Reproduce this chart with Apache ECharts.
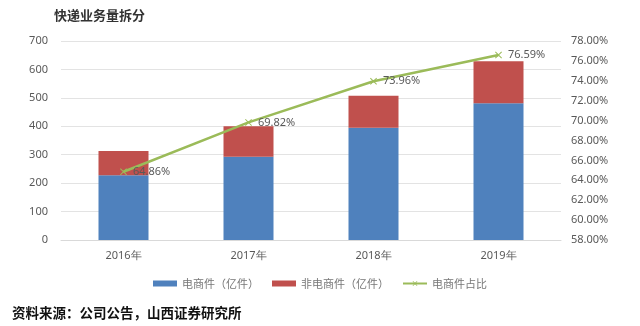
<!DOCTYPE html>
<html>
<head>
<meta charset="utf-8">
<script src="https://cdn.jsdelivr.net/npm/echarts@6/dist/echarts.min.js"></script>
<style>
html,body{margin:0;padding:0;background:#fff;}
#c{width:640px;height:326px;}
</style>
</head>
<body>
<div id="c"></div>
<script>
const categories = ['2016年', '2017年', '2018年', '2019年'];
const ecomVolume = [228, 293, 395, 481];
const nonEcomVolume = [85, 107, 112, 148];
const ecomShare = [64.86, 69.82, 73.96, 76.59];

const chart = echarts.init(document.getElementById('c'), null, {renderer: 'canvas'});
const xSym = 'path://M1,0 L5,4 L9,0 L10,1 L6,5 L10,9 L9,10 L5,6 L1,10 L0,9 L4,5 L0,1 Z';
const labelFont = {color: '#595959', fontSize: 11, fontFamily: 'Noto Sans, sans-serif'};

chart.setOption({
  animation: false,
  backgroundColor: '#fff',
  title: {
    text: '快递业务量拆分',
    left: 49, top: 4,
    textStyle: {fontSize: 13, fontWeight: 'bold', color: '#333', fontFamily: 'Noto Sans CJK SC'}
  },
  graphic: [{
    type: 'text', left: 12, top: 306,
    style: {text: '资料来源：公司公告，山西证券研究所', fontSize: 13.5, fontWeight: 'bold', fill: '#111', fontFamily: 'Noto Sans CJK SC'}
  }],
  legend: {
    left: 148, top: 273,
    itemWidth: 24, itemHeight: 6, itemGap: 13,
    textStyle: {color: '#777', fontSize: 11, fontFamily: 'Noto Sans CJK SC'},
    data: [
      {name: '电商件（亿件）', icon: 'rect'},
      {name: '非电商件（亿件）', icon: 'rect'},
      {name: '电商件占比'}
    ]
  },
  grid: {left: 61, right: 79, top: 41, bottom: 86},
  xAxis: {
    type: 'category', data: categories,
    axisLine: {lineStyle: {color: '#d9d9d9'}},
    axisTick: {show: false},
    axisLabel: Object.assign({margin: 10}, labelFont)
  },
  yAxis: [{
    type: 'value', min: 0, max: 700, interval: 100,
    axisLine: {show: false}, axisTick: {show: false},
    splitLine: {lineStyle: {color: '#e3e3e3'}},
    axisLabel: Object.assign({margin: 13}, labelFont)
  }, {
    type: 'value', min: 58, max: 78, interval: 2,
    axisLine: {show: false}, axisTick: {show: false},
    splitLine: {show: false},
    axisLabel: Object.assign({margin: 10, formatter: v => v.toFixed(2) + '%'}, labelFont)
  }],
  series: [{
    name: '电商件（亿件）', type: 'bar', stack: 'v', data: ecomVolume,
    barWidth: '40%', itemStyle: {color: '#4F81BD'}
  }, {
    name: '非电商件（亿件）', type: 'bar', stack: 'v', data: nonEcomVolume,
    barWidth: '40%', itemStyle: {color: '#C0504D'}
  }, {
    name: '电商件占比', type: 'line', yAxisIndex: 1, data: ecomShare,
    symbol: xSym, symbolSize: 7,
    lineStyle: {color: '#9BBB59', width: 2.5},
    itemStyle: {color: '#9BBB59'},
    label: {
      show: true, position: 'right', distance: 6,
      formatter: p => p.value.toFixed(2) + '%',
      color: '#595959', fontSize: 11, fontFamily: 'Noto Sans, sans-serif'
    }
  }]
});
</script>
</body>
</html>
